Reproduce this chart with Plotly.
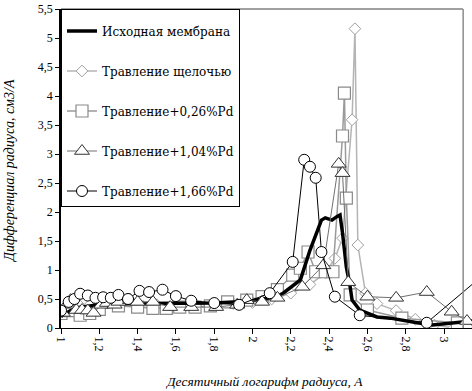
import plotly.graph_objects as go

# ---- data ----
names = ["Исходная мембрана", "Травление щелочью", "Травление+0,26%Pd",
         "Травление+1,04%Pd", "Травление+1,66%Pd"]

x_base = [1.0, 1.05, 1.1, 1.2, 1.3, 1.4, 1.5, 1.6, 1.7, 1.8, 1.9, 2.0, 2.05, 2.11, 2.16,
          2.2, 2.25, 2.3, 2.34, 2.36, 2.38, 2.415, 2.44, 2.457, 2.47, 2.49, 2.51, 2.52,
          2.56, 2.65, 2.72, 2.8, 2.86, 2.94, 3.0, 3.07, 3.15]
y_base = [0.2, 0.3, 0.36, 0.4, 0.42, 0.42, 0.42, 0.42, 0.42, 0.43, 0.45, 0.47, 0.5, 0.52, 0.6,
          0.7, 0.83, 1.34, 1.69, 1.86, 1.9, 1.86, 1.92, 1.95, 1.64, 1.05, 0.71, 0.48,
          0.31, 0.19, 0.17, 0.12, 0.09, 0.05, 0.07, 0.1, 0.12]

x_alk = [1.0, 1.05, 1.1, 1.15, 1.2, 1.3, 1.4, 1.5, 1.6, 1.7, 1.8, 1.9, 2.0, 2.1, 2.2,
         2.3, 2.38, 2.43, 2.47, 2.52, 2.535, 2.55, 2.59, 2.65, 2.75, 2.85, 2.95, 3.05, 3.12]
y_alk = [0.3, 0.35, 0.38, 0.4, 0.4, 0.38, 0.38, 0.4, 0.4, 0.42, 0.4, 0.42, 0.44, 0.5, 0.6,
         0.75, 0.95, 1.2, 1.55, 3.59, 5.16, 1.43, 0.6, 0.42, 0.3, 0.15, 0.05, 0.0, 0.02]

x_pd026 = [1.0, 1.05, 1.1, 1.15, 1.2, 1.3, 1.4, 1.48, 1.55, 1.62, 1.7, 1.78, 1.87, 1.97,
           2.05, 2.13, 2.21, 2.25, 2.29, 2.33, 2.38, 2.42, 2.47, 2.48, 2.49, 2.51, 2.6,
           2.78, 3.07]
y_pd026 = [0.25, 0.3, 0.22, 0.25, 0.32, 0.38, 0.36, 0.34, 0.34, 0.36, 0.36, 0.38, 0.45, 0.48,
           0.54, 0.66, 0.91, 1.03, 1.31, 0.97, 0.97, 0.97, 3.31, 4.05, 2.24, 0.57, 0.31,
           0.17, 0.09]

x_pd104 = [1.01, 1.03, 1.05, 1.08, 1.11, 1.14, 1.17, 1.21, 1.24, 1.28, 1.3, 1.36, 1.4,
           1.48, 1.57, 1.68, 1.81, 1.92, 1.97, 2.05, 2.13, 2.26, 2.37, 2.45, 2.47, 2.5,
           2.6, 2.75, 2.91, 3.04, 3.12]
y_pd104 = [0.26, 0.4, 0.48, 0.31, 0.31, 0.3, 0.26, 0.4, 0.43, 0.4, 0.45, 0.48, 0.45,
           0.45, 0.36, 0.36, 0.36, 0.4, 0.48, 0.45, 0.52, 0.71, 1.08, 2.83, 2.67, 0.79,
           0.54, 0.52, 0.62, 0.28, 0.12]

x_pd166 = [1.0, 1.04, 1.07, 1.1, 1.14, 1.18, 1.22, 1.26, 1.3, 1.35, 1.41, 1.46, 1.53,
           1.6, 1.68, 1.8, 1.93, 2.09, 2.21, 2.27, 2.3, 2.33, 2.36, 2.43, 2.56, 2.91, 3.2]
y_pd166 = [0.3, 0.45, 0.5, 0.59, 0.56, 0.52, 0.53, 0.52, 0.57, 0.5, 0.64, 0.62, 0.66,
           0.55, 0.47, 0.43, 0.4, 0.6, 1.14, 2.9, 2.78, 2.59, 1.31, 0.54, 0.22, 0.09, 0.9]

x_ticks = [1, 1.2, 1.4, 1.6, 1.8, 2, 2.2, 2.4, 2.6, 2.8, 3]
x_ticktext = ["1", "1,2", "1,4", "1,6", "1,8", "2", "2,2", "2,4", "2,6", "2,8", "3"]
y_ticks = [0, 0.5, 1, 1.5, 2, 2.5, 3, 3.5, 4, 4.5, 5, 5.5]
y_ticktext = ["0", "0,5", "1", "1,5", "2", "2,5", "3", "3,5", "4", "4,5", "5", "5,5"]

FONT = "Liberation Serif"
LFONT = "DejaVu Serif"

fig = go.Figure()

fig.add_trace(go.Scatter(x=x_alk, y=y_alk, name=names[1], mode="lines+markers",
                         line=dict(color="#b4b4b4", width=1.5),
                         marker=dict(symbol="diamond", size=9, color="white",
                                     line=dict(color="#a0a0a0", width=1)),
                         legendrank=2, legendgroup="g2"))
fig.add_trace(go.Scatter(x=x_pd026, y=y_pd026, name=names[2], mode="lines+markers",
                         line=dict(color="#9a9a9a", width=1.5),
                         marker=dict(symbol="square", size=12, color="white",
                                     line=dict(color="#8a8a8a", width=1.2)),
                         legendrank=3, legendgroup="g3"))
fig.add_trace(go.Scatter(x=x_base, y=y_base, name=names[0], mode="lines",
                         line=dict(color="black", width=3.5),
                         legendrank=1, legendgroup="g1"))
fig.add_trace(go.Scatter(x=x_pd104, y=y_pd104, name=names[3], mode="lines+markers",
                         line=dict(color="#707070", width=1),
                         marker=dict(symbol="triangle-up", size=13, color="white",
                                     line=dict(color="#333333", width=1)),
                         legendrank=4, legendgroup="g4"))
fig.add_trace(go.Scatter(x=x_pd166, y=y_pd166, name=names[4], mode="lines+markers",
                         line=dict(color="black", width=1),
                         marker=dict(symbol="circle", size=11, color="white",
                                     line=dict(color="black", width=1)),
                         legendrank=5, legendgroup="g5"))

x_max = 1 + (472 - 61) / 191.5

fig.update_layout(
    width=472, height=391,
    margin=dict(l=61, r=0, t=9, b=63, autoexpand=False),
    paper_bgcolor="white", plot_bgcolor="white",
    font=dict(family=FONT, size=12, color="black"),
    showlegend=True,
    hovermode=False,
    legend=dict(x=0, y=1, xanchor="left", yanchor="top",
                bgcolor="white", bordercolor="black", borderwidth=1,
                font=dict(family=LFONT, size=12, color="black"),
                title=dict(text="&nbsp;", font=dict(family=LFONT, size=5)),
                traceorder="grouped", tracegroupgap=21,
                itemwidth=30),
    xaxis=dict(range=[1, x_max], tickvals=x_ticks, ticktext=x_ticktext,
               tickangle=90, ticks="outside", ticklen=5, tickcolor="black",
               showline=True, linecolor="black", linewidth=1,
               showgrid=False, zeroline=False, automargin=False,
               tickfont=dict(family=FONT, size=12, color="black")),
    yaxis=dict(range=[0, 5.5], tickvals=y_ticks, ticktext=y_ticktext,
               ticks="outside", ticklen=4, tickcolor="black",
               showline=True, linecolor="black", linewidth=1.5,
               showgrid=False, zeroline=False, automargin=False,
               tickfont=dict(family=FONT, size=12, color="black")),
    shapes=[
        dict(type="line", xref="x", yref="paper", x0=3.1, x1=3.1, y0=0, y1=1,
             line=dict(color="#8c8c8c", width=1.5)),
        dict(type="line", xref="paper", yref="paper", x0=0, x1=(463 - 61) / 411, y0=1, y1=1,
             line=dict(color="#a0a0a0", width=2)),
    ],
    annotations=[
        dict(text="<i>Десятичный логарифм радиуса, А</i>", xref="paper", yref="paper",
             x=(264 - 61) / 411, y=-(381 - 328) / 319, xanchor="center", yanchor="middle",
             showarrow=False, font=dict(family=FONT, size=13.5, color="black")),
        dict(text="<i>Дифференциал радиуса, см3/А</i>", xref="paper", yref="paper",
             x=-(61 - 9) / 411, y=(328 - 171) / 319, xanchor="center", yanchor="middle",
             textangle=-90, showarrow=False, font=dict(family=FONT, size=14, color="black")),
    ],
)

fig.write_html("out.html", config={"displayModeBar": False},
               post_script="document.body.style.margin='0';")
